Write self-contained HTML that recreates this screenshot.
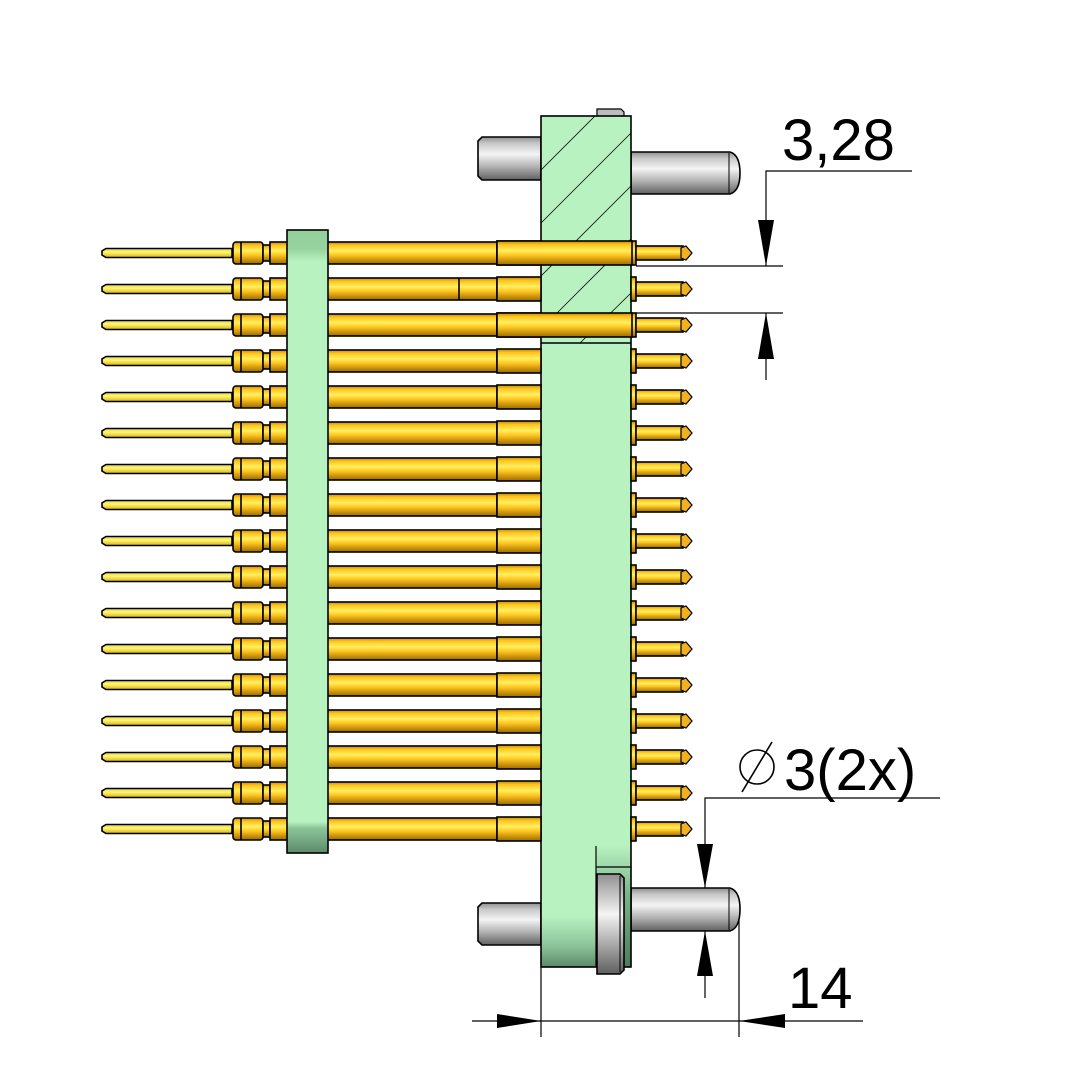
<!DOCTYPE html>
<html><head><meta charset="utf-8"><style>html,body{margin:0;padding:0;background:#fff}svg{display:block}</style></head>
<body>
<svg width="1082" height="1083" viewBox="0 0 1082 1083" xmlns="http://www.w3.org/2000/svg">
<defs>
<linearGradient id="gold" x1="0" y1="0" x2="0" y2="1">
<stop offset="0" stop-color="#c08a00"/><stop offset="0.15" stop-color="#ffc41e"/><stop offset="0.4" stop-color="#fff060"/><stop offset="0.6" stop-color="#ffc41e"/><stop offset="1" stop-color="#9a6a00"/></linearGradient>
<linearGradient id="yel" x1="0" y1="0" x2="0" y2="1">
<stop offset="0" stop-color="#e8d040"/><stop offset="0.4" stop-color="#fff870"/><stop offset="1" stop-color="#d8b020"/></linearGradient>
<linearGradient id="grey" x1="0" y1="0" x2="0" y2="1">
<stop offset="0" stop-color="#909090"/><stop offset="0.15" stop-color="#c8c8c8"/><stop offset="0.4" stop-color="#f4f4f4"/><stop offset="0.7" stop-color="#b0b0b0"/><stop offset="1" stop-color="#606060"/></linearGradient>
<linearGradient id="greyh" x1="0" y1="0" x2="0" y2="1">
<stop offset="0" stop-color="#909090"/><stop offset="0.4" stop-color="#f4f4f4"/><stop offset="1" stop-color="#606060"/></linearGradient>
<linearGradient id="lgreen" x1="0" y1="0" x2="0" y2="1">
<stop offset="0" stop-color="#94d09c"/><stop offset="0.03" stop-color="#96d29e"/><stop offset="0.05" stop-color="#b8f2c0"/><stop offset="0.95" stop-color="#b8f2c0"/><stop offset="0.96" stop-color="#8cc49a"/><stop offset="1" stop-color="#5c8a6a"/></linearGradient>
<linearGradient id="mgreen" x1="0" y1="0" x2="0" y2="1">
<stop offset="0" stop-color="#b8f2c0"/><stop offset="0.94" stop-color="#b8f2c0"/><stop offset="0.975" stop-color="#8cc49a"/><stop offset="1" stop-color="#5c8a6a"/></linearGradient>
<linearGradient id="notch" x1="0" y1="0" x2="0" y2="1">
<stop offset="0" stop-color="#b8f2c0"/><stop offset="0.4" stop-color="#7cb48a"/><stop offset="1" stop-color="#4e7a5c"/></linearGradient>
<g id="row" stroke="#000" stroke-width="1.6">
<path d="M106,-4.5 H232 V4.5 H106 L102,2 V-2 Z" fill="url(#yel)"/>
<rect x="233" y="-11" width="30" height="22" rx="3" fill="url(#gold)"/>
<line x1="241" y1="-11" x2="241" y2="11"/>
<rect x="263" y="-8" width="7" height="16" fill="url(#gold)"/>
<rect x="270" y="-11" width="227" height="22" fill="url(#gold)"/>
<rect x="497" y="-12" width="44" height="24" fill="url(#gold)"/>
<rect x="631" y="-12" width="5" height="24" fill="url(#gold)"/>
<rect x="636" y="-7" width="47" height="14" fill="url(#gold)"/>
<path d="M681,-5 L686,-7 L692,0 L686,7 L681,5 Z" fill="#f0b020" stroke-width="1.2"/>
</g>
</defs>

<path d="M597,109 H621 L624,112 V117 H597 Z" fill="#bdbdbd" stroke="#000" stroke-width="1.2"/>
<path d="M482,137 H541 V180 H482 L478,176 V141 Z" fill="url(#grey)" stroke="#000" stroke-width="1.6"/>
<path d="M631,152 H730 Q740,155 740,173 Q740,191 730,194 H631 Z" fill="url(#grey)" stroke="#000" stroke-width="1.6"/>
<line x1="729" y1="153" x2="729" y2="193" stroke="#000"/>
<path d="M482,903 H541 V945 H482 L478,941 V907 Z" fill="url(#grey)" stroke="#000" stroke-width="1.6"/>
<path d="M631,888 H730 Q740,891 740,909 Q740,928 730,931 H631 Z" fill="url(#grey)" stroke="#000" stroke-width="1.6"/>
<line x1="729" y1="889" x2="729" y2="930" stroke="#000"/>

<rect x="541" y="116" width="90" height="851" fill="url(#mgreen)"/>
<g stroke="#000" stroke-width="0.8">
<line x1="541" y1="170" x2="595" y2="116"/>
<line x1="541" y1="223" x2="631" y2="133"/>
<line x1="541" y1="276" x2="631" y2="186"/>
<line x1="557" y1="313" x2="631" y2="239"/>
<line x1="580" y1="343" x2="631" y2="293"/>
</g>
<line x1="541" y1="343" x2="631" y2="343" stroke="#000" stroke-width="1.6"/>
<rect x="596" y="846" width="35" height="121" fill="url(#notch)"/>
<line x1="596" y1="846" x2="596" y2="967" stroke="#000" stroke-width="1.2"/>
<line x1="596" y1="867" x2="631" y2="867" stroke="#000" stroke-width="1.2"/>
<rect x="541" y="116" width="90" height="851" fill="none" stroke="#000" stroke-width="1.6"/>
<path d="M597,874 H620 L624,878 V970 L620,974 H597 Z" fill="url(#greyh)" stroke="#000" stroke-width="1.6"/>
<line x1="620" y1="876" x2="620" y2="972" stroke="#000"/>

<use href="#row" y="253"/><use href="#row" y="289"/><use href="#row" y="325"/><use href="#row" y="361"/>
<use href="#row" y="397"/><use href="#row" y="433"/><use href="#row" y="469"/><use href="#row" y="505"/>
<use href="#row" y="541"/><use href="#row" y="577"/><use href="#row" y="613"/><use href="#row" y="649"/>
<use href="#row" y="685"/><use href="#row" y="721"/><use href="#row" y="757"/><use href="#row" y="793"/>
<use href="#row" y="829"/>
<rect x="497" y="241" width="135" height="24" fill="url(#gold)" stroke="#000" stroke-width="1.6"/>
<rect x="497" y="313" width="135" height="24" fill="url(#gold)" stroke="#000" stroke-width="1.6"/>
<line x1="459" y1="278" x2="459" y2="300" stroke="#000" stroke-width="1.6"/>

<rect x="287" y="230" width="41" height="623" fill="url(#lgreen)" stroke="#000" stroke-width="1.6"/>

<g stroke="#000" stroke-width="1.2">
<line x1="636" y1="266" x2="783" y2="266"/>
<line x1="636" y1="313" x2="783" y2="313"/>
<polyline points="912,171 766,171 766,266" fill="none"/>
<line x1="766" y1="313" x2="766" y2="380"/>
<polyline points="940,798 705,798 705,888" fill="none"/>
<line x1="705" y1="931" x2="705" y2="998"/>
<line x1="472" y1="1021" x2="863" y2="1021"/>
<line x1="541" y1="967" x2="541" y2="1037"/>
<line x1="739" y1="920" x2="739" y2="1037"/>
<circle cx="757" cy="767" r="17" fill="none" stroke-width="1.6"/>
<line x1="742" y1="792" x2="772" y2="742" stroke-width="1.6"/>
</g>
<g fill="#000">
<polygon points="758,220 774,220 766,266"/>
<polygon points="758,359 774,359 766,313"/>
<polygon points="697,844 713,844 705,888"/>
<polygon points="697,976 713,976 705,931"/>
<polygon points="497,1014 497,1028 541,1021"/>
<polygon points="785,1014 785,1028 739,1021"/>
</g>
<g font-family="'Liberation Sans', sans-serif" font-size="58" fill="#000">
<text x="782" y="160">3,28</text>
<text x="784" y="790">3(2x)</text>
<text x="788" y="1008">14</text>
</g>
</svg>
</body></html>
